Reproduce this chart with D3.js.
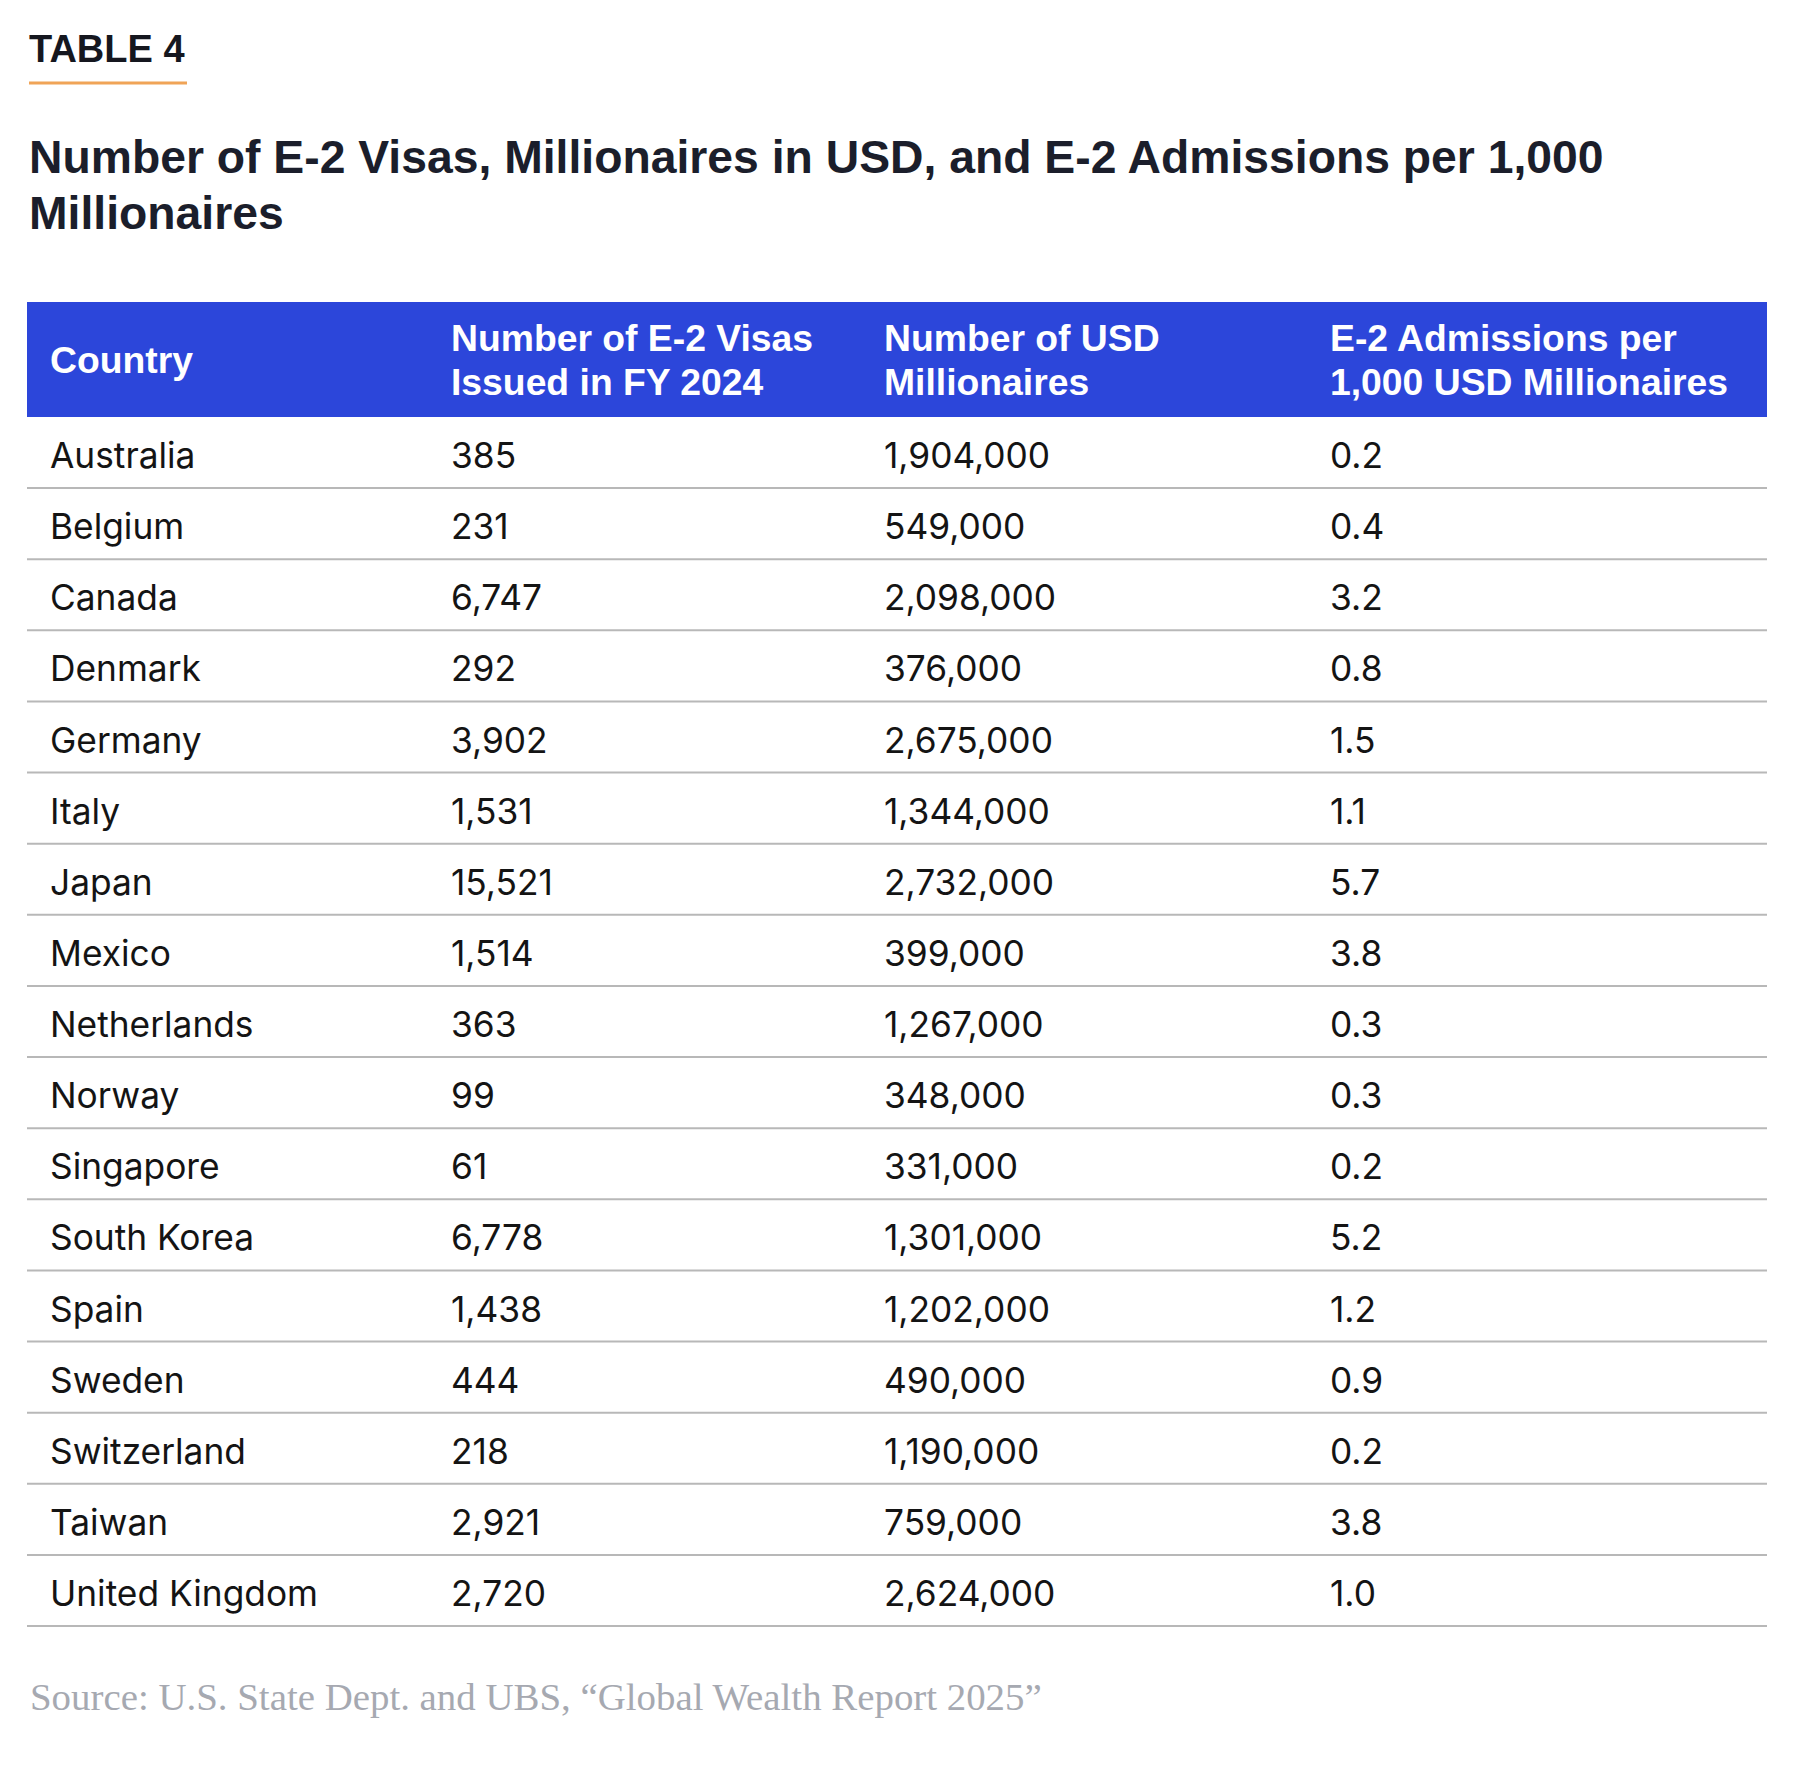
<!DOCTYPE html>
<html>
<head>
<meta charset="utf-8">
<script src="https://cdn.jsdelivr.net/npm/d3@7/dist/d3.min.js"></script>
<style>
  html, body { margin: 0; padding: 0; background: #ffffff; }
  svg { display: block; }
</style>
</head>
<body>
<svg id="chart" width="1800" height="1785"></svg>
<script>
// ---- data ----
const tableLabel = "TABLE 4";
const titleLines = [
  "Number of E-2 Visas, Millionaires in USD, and E-2 Admissions per 1,000",
  "Millionaires"
];
const columnKeys = ["country", "visas", "millionaires", "perThousand"];
const headerLines = [
  ["Country"],
  ["Number of E-2 Visas", "Issued in FY 2024"],
  ["Number of USD", "Millionaires"],
  ["E-2 Admissions per", "1,000 USD Millionaires"]
];
const countries = ["Australia", "Belgium", "Canada", "Denmark", "Germany", "Italy", "Japan",
  "Mexico", "Netherlands", "Norway", "Singapore", "South Korea", "Spain", "Sweden",
  "Switzerland", "Taiwan", "United Kingdom"];
const visas = [385, 231, 6747, 292, 3902, 1531, 15521, 1514, 363, 99, 61, 6778, 1438, 444, 218, 2921, 2720];
const millionaires = [1904000, 549000, 2098000, 376000, 2675000, 1344000, 2732000, 399000,
  1267000, 348000, 331000, 1301000, 1202000, 490000, 1190000, 759000, 2624000];
const perThousand = [0.2, 0.4, 3.2, 0.8, 1.5, 1.1, 5.7, 3.8, 0.3, 0.3, 0.2, 5.2, 1.2, 0.9, 0.2, 3.8, 1.0];
const sourceText = "Source: U.S. State Dept. and UBS, \u201cGlobal Wealth Report 2025\u201d";

// ---- layout ----
const tableLeft = 27, tableRight = 1767;
const headerTop = 302, headerBottom = 417, tableBottom = 1626;

const svg = d3.select("#chart");

const colX = d3.scaleOrdinal().domain(columnKeys).range([50, 451, 884, 1330]);
const rowY = d3.scaleBand().domain(countries).range([headerBottom, tableBottom]).padding(0);

const fmtInt = d3.format(",");
const fmtOne = d3.format(".1f");

const boldFont = "'Liberation Sans', Arial, Helvetica, sans-serif";
const bodyFont = "Inter, 'Liberation Sans', Arial, sans-serif";

// Table label
svg.append("text")
  .attr("x", 29).attr("y", 62)
  .attr("font-family", boldFont).attr("font-weight", 700)
  .attr("font-size", 38).attr("fill", "#15171f")
  .text(tableLabel);
svg.append("line")
  .attr("x1", 29).attr("x2", 187).attr("y1", 83).attr("y2", 83)
  .attr("stroke", "#f0a457").attr("stroke-width", 3);

// Title
svg.append("g").selectAll("text").data(titleLines).join("text")
  .attr("x", 29).attr("y", (d, i) => 173 + i * 56)
  .attr("font-family", boldFont).attr("font-weight", 700)
  .attr("font-size", 46.3).attr("fill", "#1b1e2b")
  .text(d => d);

// Header band
svg.append("rect")
  .attr("x", tableLeft).attr("y", headerTop)
  .attr("width", tableRight - tableLeft).attr("height", headerBottom - headerTop)
  .attr("fill", "#2c46da");

const headerG = svg.append("g");
headerLines.forEach((lines, ci) => {
  const key = columnKeys[ci];
  const n = lines.length;
  const lh = 44;
  const mid = (headerTop + headerBottom) / 2;
  const firstBase = mid + 13 - (n - 1) * lh / 2;
  headerG.append("g").selectAll("text").data(lines).join("text")
    .attr("x", colX(key))
    .attr("y", (d, i) => firstBase + i * lh)
    .attr("font-family", boldFont).attr("font-weight", 700)
    .attr("font-size", 37.3).attr("fill", "#ffffff")
    .text(d => d);
});

// Rows
const rows = countries.map((c, i) => ({
  country: c,
  visas: fmtInt(visas[i]),
  millionaires: fmtInt(millionaires[i]),
  perThousand: fmtOne(perThousand[i])
}));

const rowG = svg.append("g").selectAll("g").data(rows).join("g")
  .attr("transform", d => `translate(0,${rowY(d.country)})`);

rowG.selectAll("text").data(d => columnKeys.map(k => ({ k, v: d[k] }))).join("text")
  .attr("x", d => colX(d.k))
  .attr("y", rowY.bandwidth() - 20)
  .attr("font-family", bodyFont).attr("font-weight", 400)
  .attr("font-size", 35.3).attr("fill", "#141414")
  .text(d => d.v);

rowG.append("line")
  .attr("x1", tableLeft).attr("x2", tableRight)
  .attr("y1", rowY.bandwidth()).attr("y2", rowY.bandwidth())
  .attr("stroke", "#b8b8b8").attr("stroke-width", 2);

// Source
const src = svg.append("text")
  .attr("x", 30).attr("y", 1710)
  .attr("font-family", "'Liberation Serif', 'DejaVu Serif', serif")
  .attr("font-size", 36).attr("fill", "#a6a9b1")
  .text(sourceText);
const targetW = 1012;
const w = src.node().getComputedTextLength();
if (w > 0) src.attr("font-size", 36 * targetW / w);
</script>
</body>
</html>
